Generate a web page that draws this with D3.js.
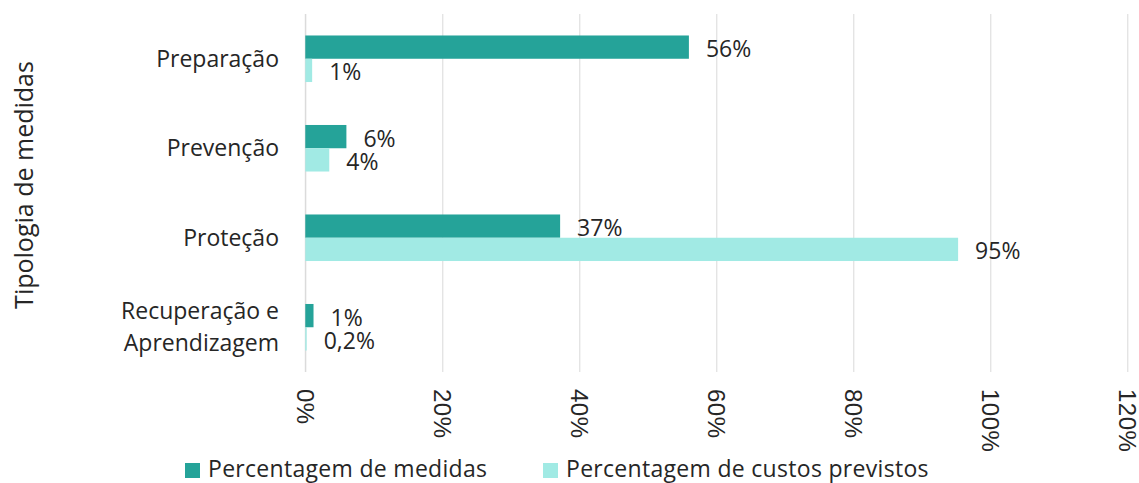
<!DOCTYPE html>
<html>
<head>
<meta charset="utf-8">
<script src="https://cdn.jsdelivr.net/npm/d3@7"></script>
<style>
  html, body { margin: 0; padding: 0; background: #fff; }
  svg { display: block; font-family: "Open Sans", sans-serif; }
</style>
</head>
<body>
<svg id="chart" width="1139" height="483"></svg>
<script>
// Tipologia de medidas: share of measures vs. share of planned costs
const categories = [["Preparação"], ["Prevenção"], ["Proteção"], ["Recuperação e", "Aprendizagem"]];
const seriesNames = ["Percentagem de medidas", "Percentagem de custos previstos"];
const medidas = [0.56, 0.06, 0.372, 0.012];
const custos = [0.01, 0.035, 0.953, 0.002];
const medidasLabels = ["56%", "6%", "37%", "1%"];
const custosLabels = ["1%", "4%", "95%", "0,2%"];
const xTicks = [0, 0.2, 0.4, 0.6, 0.8, 1.0, 1.2];
const colors = ["#25A399", "#A1EAE4"];

const svg = d3.select("#chart");
const margin = { left: 305.3, right: 12, top: 14, bottom: 111 };
const W = 1139, H = 483;
const plotH = H - margin.top - margin.bottom;

const x = d3.scaleLinear().domain([0, 1.2]).range([margin.left, margin.left + 137 * 6]);
const y = d3.scaleBand().domain(d3.range(categories.length)).range([margin.top, margin.top + plotH]).padding(0);
const inner = d3.scaleBand().domain([0, 1]).range([0, y.bandwidth() * 0.52]);

const g = svg.append("g");

// vertical gridlines with rotated tick labels
const xAxis = d3.axisBottom(x).tickValues(xTicks).tickFormat(d3.format(".0%")).tickSize(-plotH).tickPadding(0);
const ax = g.append("g").attr("transform", `translate(0,${margin.top + plotH})`).call(xAxis);
ax.select(".domain").remove();
ax.selectAll(".tick line").attr("stroke", "#d9d9d9").attr("stroke-width", 1);
ax.selectAll(".tick text")
  .attr("transform", "translate(0,17) rotate(90)")
  .attr("text-anchor", "start")
  .attr("dy", "0.35em")
  .attr("x", 0).attr("y", 0)
  .attr("fill", "#262626")
  .style("font-size", "24px")
  .style("letter-spacing", "0.5px");

// zero axis line
g.append("line")
  .attr("x1", x(0)).attr("x2", x(0))
  .attr("y1", margin.top).attr("y2", margin.top + plotH)
  .attr("stroke", "#d9d9d9");

const series = [medidas, custos];
const labels = [medidasLabels, custosLabels];
const groupOffset = (y.bandwidth() - y.bandwidth() * 0.52) / 2;

series.forEach((vals, s) => {
  g.selectAll(null).data(vals).join("rect")
    .attr("x", x(0))
    .attr("y", (d, i) => y(i) + groupOffset + inner(s))
    .attr("width", d => x(d) - x(0))
    .attr("height", inner.bandwidth())
    .attr("fill", colors[s]);

  g.selectAll(null).data(vals).join("text")
    .attr("x", d => x(d) + 17)
    .attr("y", (d, i) => y(i) + groupOffset + inner(s) + inner.bandwidth() / 2 + 2)
    .attr("dy", "0.35em")
    .attr("fill", "#262626")
    .style("font-size", "23px")
    .text((d, i) => labels[s][i]);
});

// category labels
categories.forEach((lines, i) => {
  const cy = y(i) + y.bandwidth() / 2;
  const t = g.append("text")
    .attr("text-anchor", "end")
    .attr("fill", "#262626")
    .style("font-size", "23px");
  lines.forEach((ln, k) => {
    t.append("tspan")
      .attr("x", 279)
      .attr("y", cy + (k - (lines.length - 1) / 2) * 32)
      .attr("dy", "0.35em")
      .text(ln);
  });
});

// y axis title
svg.append("text")
  .attr("transform", "translate(33,185) rotate(-90)")
  .attr("text-anchor", "middle")
  .attr("fill", "#262626")
  .style("font-size", "25px")
  .text("Tipologia de medidas");

// legend
const legendItems = [{ x: 185, tx: 208 }, { x: 543, tx: 566 }];
legendItems.forEach((it, s) => {
  svg.append("rect").attr("x", it.x).attr("y", 463).attr("width", 15).attr("height", 15).attr("fill", colors[s]);
  svg.append("text")
    .attr("x", it.tx).attr("y", 477)
    .attr("fill", "#262626")
    .style("font-size", "23px")
    .style("letter-spacing", "0.3px")
    .text(seriesNames[s]);
});
</script>
</body>
</html>
